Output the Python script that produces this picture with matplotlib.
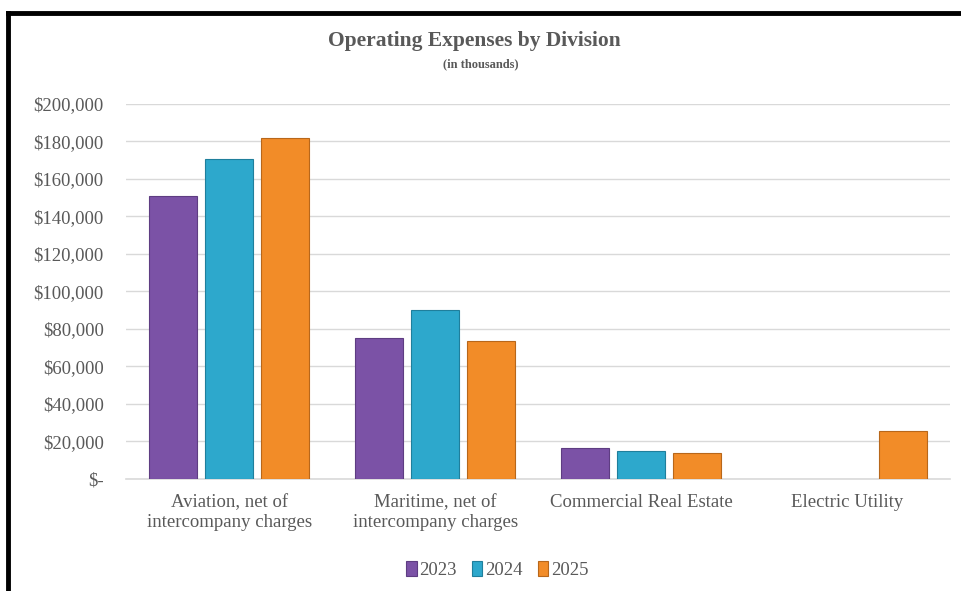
import numpy as np
import matplotlib
matplotlib.use('Agg')
import matplotlib.pyplot as plt
from matplotlib.ticker import FuncFormatter
from matplotlib.lines import Line2D

plt.rcParams['font.family'] = ['Liberation Serif', 'DejaVu Serif']

categories = ['Aviation, net of\nintercompany charges',
              'Maritime, net of\nintercompany charges',
              'Commercial Real Estate',
              'Electric Utility']
years = ['2023', '2024', '2025']
exp_2023 = [150800, 75000, 16300, 0]
exp_2024 = [170400, 90000, 14700, 0]
exp_2025 = [181600, 73500, 13700, 25400]

colors = ['#7B52A6', '#2DA8CC', '#F28C28']
edges = ['#5E3D82', '#1F7F9C', '#B8671A']
text_col = '#595959'

fig = plt.figure(figsize=(9.62, 5.91), dpi=100)
ax = fig.add_axes([0.131, 0.190, 0.857, 0.634])

x = np.arange(len(categories))
width = 0.233
step = 0.272
for i, (vals, c, e, yr) in enumerate(zip([exp_2023, exp_2024, exp_2025], colors, edges, years)):
    vals = np.array(vals, dtype=float)
    ax.bar(x + (i - 1) * step, np.where(vals > 0, vals, np.nan), width, color=c,
           edgecolor=e, linewidth=0.8, label=yr, zorder=3)

ax.set_xlim(-0.5, len(categories) - 0.5)
ax.set_ylim(0, 200000)
ax.set_yticks(np.arange(0, 200001, 20000))
ax.yaxis.set_major_formatter(FuncFormatter(lambda v, p: '$-' if v == 0 else f'${v:,.0f}'))
ax.grid(axis='y', color='#D9D9D9', linewidth=1, zorder=0)
ax.set_axisbelow(True)
for s in ['left', 'right', 'top']:
    ax.spines[s].set_visible(False)
ax.spines['bottom'].set_color('#D9D9D9')
ax.spines['bottom'].set_linewidth(1.2)
ax.tick_params(axis='both', length=0, labelsize=13.5, colors=text_col)
ax.tick_params(axis='y', pad=16)
ax.set_xticks(x)
ax.set_xticklabels(categories, linespacing=1.2)
ax.tick_params(axis='x', pad=11)

fig.text(0.493, 0.930, 'Operating Expenses by Division', ha='center', va='center',
         fontsize=15.5, fontweight='bold', color=text_col)
fig.text(0.5, 0.892, '(in thousands)', ha='center', va='center',
         fontsize=9, fontweight='bold', color=text_col)

leg = fig.legend(loc='center', bbox_to_anchor=(0.517, 0.035), ncol=3, frameon=False,
                 fontsize=13.5, handlelength=0.55, handleheight=0.8, handletextpad=0.15,
                 columnspacing=0.8)
for t in leg.get_texts():
    t.set_color(text_col)

# black frame of the screenshot (left and top)
fig.add_artist(Line2D([8 / 962, 8 / 962], [0, 1 - 13 / 591], transform=fig.transFigure,
                      color='black', linewidth=3.5))
fig.add_artist(Line2D([8 / 962, 1], [1 - 13 / 591, 1 - 13 / 591], transform=fig.transFigure,
                      color='black', linewidth=3.5))

fig.savefig('out.png', dpi=100, facecolor='white')
